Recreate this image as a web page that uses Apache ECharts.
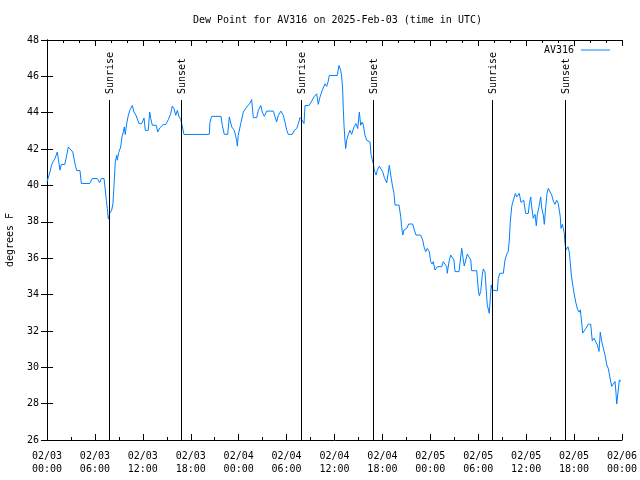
<!DOCTYPE html>
<html>
<head>
<meta charset="utf-8">
<script src="https://cdn.jsdelivr.net/npm/echarts@6/dist/echarts.min.js"></script>
<style>html,body{margin:0;padding:0;background:#fff}#c{width:640px;height:480px}</style>
</head>
<body>
<div id="c"></div>
<script>
// Hours since 2025-02-03 00:00 UTC
const hours = [0.00,0.13,0.38,0.54,0.75,1.00,1.29,1.41,1.63,1.79,2.22,2.47,2.67,2.88,3.22,3.38,3.59,3.72,4.13,4.30,5.35,5.67,6.30,6.60,6.80,7.14,7.26,7.43,7.55,7.68,7.85,8.10,8.26,8.39,8.55,8.73,8.80,8.98,9.23,9.39,9.55,9.68,9.80,9.98,10.14,10.36,10.56,10.68,10.89,11.18,11.52,11.86,12.15,12.31,12.68,12.86,12.99,13.19,13.69,13.86,14.11,14.56,14.86,15.19,15.49,15.69,15.90,16.12,16.32,16.53,16.74,16.87,17.15,20.32,20.41,20.62,21.79,21.95,22.20,22.63,22.83,23.13,23.45,23.75,23.83,23.95,24.26,24.58,25.01,25.42,25.63,25.83,26.26,26.46,26.76,26.96,27.21,27.51,28.34,28.76,28.96,29.30,29.59,29.80,30.02,30.22,30.72,30.97,31.27,31.47,31.68,31.97,32.18,32.31,32.81,33.15,33.47,33.77,33.97,34.18,34.47,34.81,35.02,35.22,35.35,36.35,36.56,36.78,36.90,37.03,37.10,37.19,37.31,37.40,37.53,37.73,37.94,38.15,38.44,38.69,38.91,39.11,39.28,39.48,39.61,39.82,40.03,40.45,40.57,40.73,40.86,40.98,41.20,41.36,41.61,41.82,42.04,42.24,42.54,42.74,42.86,43.04,43.24,43.45,43.58,44.08,44.29,44.41,44.54,44.70,45.04,45.29,45.79,45.99,46.21,46.79,47.04,47.21,47.42,47.62,47.87,48.05,48.21,48.37,48.58,48.87,49.42,49.62,49.84,50.05,50.12,50.34,50.55,50.80,50.96,51.09,51.59,51.71,51.93,52.13,52.25,52.43,52.63,52.84,53.06,53.18,53.81,54.01,54.13,54.31,54.51,54.63,54.84,55.01,55.13,55.26,55.38,55.51,55.63,55.76,55.89,56.39,56.51,56.69,57.14,57.35,57.56,57.76,57.89,58.01,58.19,58.31,58.48,58.64,58.82,59.02,59.14,59.35,59.52,59.69,59.85,59.94,60.27,60.39,60.57,60.69,60.89,61.11,61.27,61.40,61.61,61.82,61.95,62.15,62.27,62.45,62.61,62.77,62.99,63.20,63.40,63.61,63.82,64.02,64.15,64.27,64.36,64.53,64.70,64.78,64.86,64.99,65.11,65.24,65.40,65.53,65.65,65.83,66.03,66.24,66.45,66.65,66.78,66.96,67.08,67.24,67.49,67.78,68.08,68.28,68.49,68.71,68.91,69.12,69.28,69.46,69.66,69.87,70.09,70.29,70.50,70.71,70.91,71.13,71.25,71.34,71.46,71.59,71.67,71.80,71.88];
const dewF = [40.20,40.27,40.75,41.08,41.30,41.48,41.84,41.48,40.84,41.15,41.15,41.66,42.12,42.03,41.84,41.48,41.02,40.82,40.82,40.11,40.11,40.38,40.38,40.16,40.38,40.38,39.92,39.19,38.74,38.15,38.46,38.64,39.01,40.00,41.30,41.66,41.39,41.81,42.12,42.67,42.94,43.22,42.80,43.40,43.77,44.13,44.22,44.40,44.04,43.82,43.40,43.40,43.71,43.03,43.03,44.04,43.68,43.31,43.31,42.94,43.16,43.35,43.35,43.62,43.95,44.37,44.22,43.86,44.13,43.77,43.64,43.40,42.80,42.81,43.49,43.80,43.80,43.31,42.81,42.81,43.77,43.22,43.03,42.49,42.16,42.76,43.40,44.04,44.31,44.53,44.72,43.73,43.73,44.13,44.40,44.04,43.80,44.09,44.09,43.49,43.86,44.09,43.86,43.49,43.03,42.81,42.81,43.03,43.13,43.40,43.73,43.58,43.40,44.40,44.40,44.64,44.90,45.04,44.46,44.86,45.23,45.59,45.45,45.74,46.05,46.05,46.60,46.33,45.96,45.23,44.22,43.31,42.49,42.03,42.49,42.81,43.03,42.81,43.22,43.40,43.13,44.04,43.31,43.49,43.31,42.76,42.49,42.39,41.72,41.43,41.20,40.84,40.57,40.84,41.06,41.11,40.75,40.44,40.14,40.14,41.11,40.57,40.02,39.56,38.92,38.92,38.28,37.73,37.27,37.55,37.64,37.88,37.88,37.55,37.27,37.27,37.00,36.63,36.36,36.54,36.36,35.81,35.68,35.81,35.35,35.53,35.53,35.81,35.90,35.53,35.17,35.81,36.17,36.27,35.90,35.26,35.26,35.72,36.54,35.90,35.57,35.63,36.23,36.23,35.90,35.31,35.31,34.25,33.94,34.16,35.08,35.41,35.26,34.16,33.43,33.34,32.97,33.80,34.53,34.25,34.20,34.20,34.89,35.17,35.17,35.90,36.21,36.39,37.00,38.00,38.83,39.07,39.29,39.56,39.37,39.43,39.56,39.07,38.96,39.19,38.70,38.46,38.46,38.96,39.37,38.83,38.19,38.41,37.78,38.41,38.83,39.37,38.74,38.37,37.86,38.83,39.56,39.84,39.74,39.47,39.14,38.96,39.19,39.01,38.96,38.28,37.64,37.86,37.91,37.37,36.82,36.45,36.50,36.63,36.32,35.72,35.08,34.53,33.98,33.52,33.16,33.03,33.16,32.43,31.88,31.78,32.15,32.37,32.37,31.45,31.60,31.69,31.23,30.87,31.93,31.42,31.05,30.69,30.14,29.92,29.41,28.95,29.04,29.22,28.58,27.98,28.00,28.00,29.30,29.31,29.22];

const xTickLabels = ['02/03\n00:00','02/03\n06:00','02/03\n12:00','02/03\n18:00','02/04\n00:00','02/04\n06:00','02/04\n12:00','02/04\n18:00','02/05\n00:00','02/05\n06:00','02/05\n12:00','02/05\n18:00','02/06\n00:00'];
const sunHours = [7.77, 16.82, 31.81, 40.86, 55.76, 64.90];
const sunLabels = ['Sunrise','Sunset','Sunrise','Sunset','Sunrise','Sunset'];
const sunLineTop = 44.7;
const yMin = 26, yMax = 48;

const FONT = '"DejaVu Sans Mono", monospace';
const chart = echarts.init(document.getElementById('c'), null, {renderer: 'canvas'});
const axisCommon = {
  type: 'value', min: 0, max: 72, interval: 6,
  axisLine: {show: true, onZero: false, lineStyle: {color: '#000', width: 1}},
  splitLine: {show: false},
  axisTick: {show: true, inside: true, length: 6, lineStyle: {color: '#000'}},
};
chart.setOption({
  animation: false,
  backgroundColor: '#fff',
  title: {
    text: 'Dew Point for AV316 on 2025-Feb-03 (time in UTC)',
    left: 188, top: 10,
    textStyle: {fontFamily: FONT, fontSize: 10, fontWeight: 'normal', color: '#000'}
  },
  legend: {
    data: ['AV316'], right: 25, top: 40, align: 'right',
    icon: 'rect', itemWidth: 29, itemHeight: 1, itemGap: 6,
    textStyle: {fontFamily: FONT, fontSize: 10, color: '#000', padding: [0, 2, 0, 0]}
  },
  grid: {left: 47, right: 18, top: 40, bottom: 40, containLabel: false, outerBoundsMode: 'none'},
  xAxis: [
    Object.assign({}, axisCommon, {
      position: 'bottom',
      minorTick: {show: true, splitNumber: 2, length: 3, lineStyle: {color: '#000'}},
      axisLabel: {
        margin: 10, color: '#000', fontFamily: FONT, fontSize: 10, lineHeight: 13,
        formatter: v => xTickLabels[Math.round(v / 6)]
      }
    }),
    Object.assign({}, axisCommon, {
      position: 'top',
      minorTick: {show: true, splitNumber: 3, length: 3, lineStyle: {color: '#000'}},
      axisLabel: {show: false}
    })
  ],
  yAxis: [
    {
      type: 'value', min: yMin, max: yMax, interval: 2, position: 'left',
      axisLine: {show: true, lineStyle: {color: '#000'}},
      splitLine: {show: false},
      axisTick: {show: true, inside: true, length: 6, lineStyle: {color: '#000'}},
      axisLabel: {margin: 8, color: '#000', fontFamily: FONT, fontSize: 10},
      name: 'degrees F', nameLocation: 'middle', nameRotate: 90, nameGap: 32,
      nameTextStyle: {fontFamily: FONT, fontSize: 10, color: '#000'}
    },
    {
      type: 'value', min: yMin, max: yMax, interval: 2, position: 'right',
      axisLine: {show: true, lineStyle: {color: '#000'}},
      splitLine: {show: false},
      axisTick: {show: true, inside: true, length: 6, lineStyle: {color: '#000'}},
      axisLabel: {show: false}
    }
  ],
  series: [
    {
      name: 'AV316', type: 'line', xAxisIndex: 0, yAxisIndex: 0,
      data: hours.map((h, i) => [h, dewF[i]]),
      showSymbol: false, symbol: 'none',
      lineStyle: {color: '#0080ff', width: 1},
      itemStyle: {color: '#0080ff'},
      z: 3
    },
    {
      name: 'sun', type: 'custom', xAxisIndex: 0, yAxisIndex: 0,
      data: sunHours.map(h => [h, sunLineTop]),
      z: 4,
      renderItem: (params, api) => {
        const h = api.value(0);
        const p0 = api.coord([h, yMin]);
        const p1 = api.coord([h, api.value(1)]);
        const x = Math.round(p0[0]) + 0.5;
        return {
          type: 'group',
          children: [
            {type: 'line', shape: {x1: x, y1: p0[1], x2: x, y2: p1[1]},
             style: {stroke: '#000', lineWidth: 1}},
            {type: 'text', x: x + 1, y: p1[1] - 6, rotation: Math.PI / 2,
             style: {text: sunLabels[params.dataIndex], fill: '#000',
                     font: '10px ' + FONT, align: 'left', verticalAlign: 'middle'}}
          ]
        };
      }
    }
  ]
});
</script>
</body>
</html>
